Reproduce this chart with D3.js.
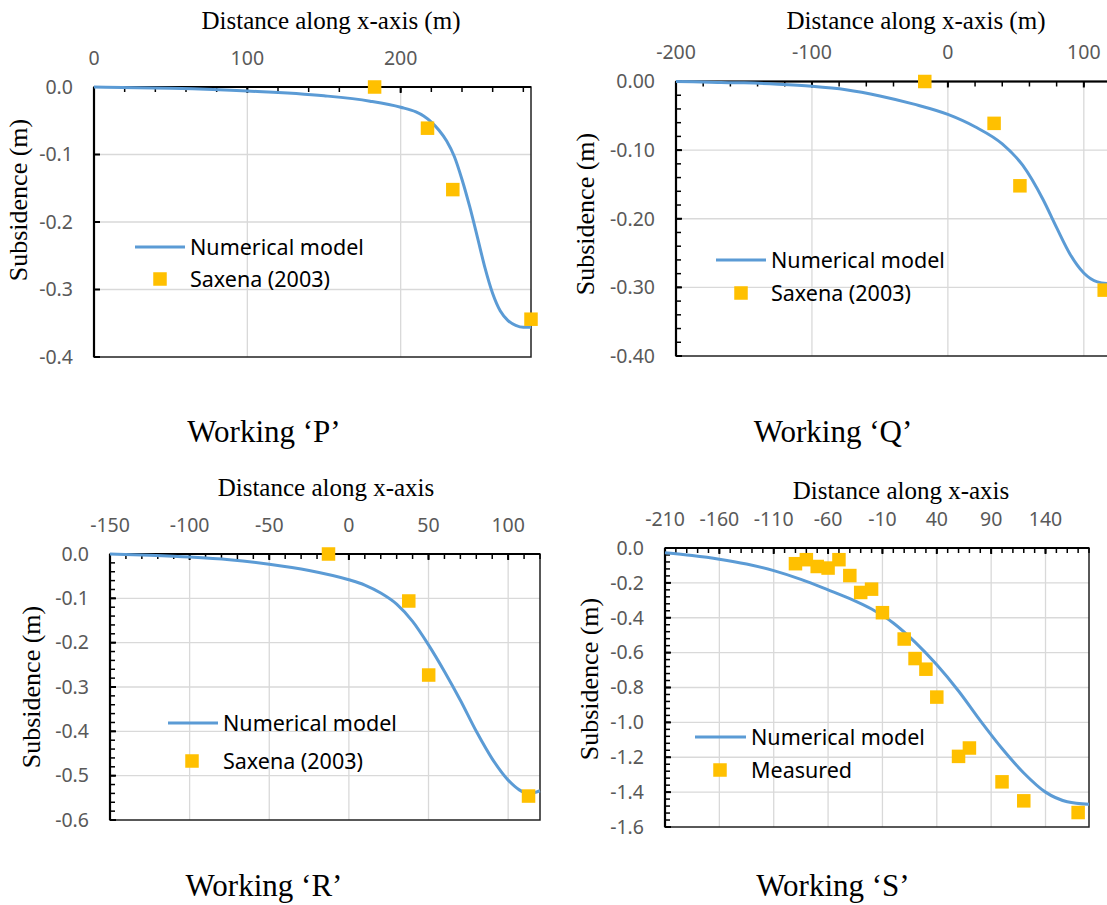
<!DOCTYPE html>
<html>
<head>
<meta charset="utf-8">
<script src="https://cdn.jsdelivr.net/npm/d3@7"></script>
<style>
  body { margin: 0; background: #fff; }
  .tick-label { font-family: "Noto Sans", sans-serif; font-size: 19.5px; fill: #595959; }
  .legend-label { font-family: "Noto Sans", sans-serif; font-size: 21.5px; fill: #000; }
  .title { font-family: "Liberation Serif", "Times New Roman", serif; font-size: 25px; fill: #000; }
  .ytitle { font-family: "Liberation Serif", "Times New Roman", serif; font-size: 26px; fill: #000; }
  .caption { font-family: "Liberation Serif", "Times New Roman", serif; font-size: 31px; fill: #000; }
</style>
</head>
<body>
<div id="chart"></div>
<script>
// Working P
var pModelX = [0, 50, 100, 150, 180, 200, 210, 215, 220, 225, 230, 235, 240, 245, 250, 255, 260, 265, 270, 275, 280, 285];
var pModelY = [0, -0.002, -0.006, -0.013, -0.021, -0.03, -0.037, -0.043, -0.052, -0.064, -0.08, -0.103, -0.137, -0.177, -0.222, -0.268, -0.306, -0.332, -0.346, -0.353, -0.356, -0.356];
var pObsX = [183, 217.5, 234, 285];
var pObsY = [0, -0.061, -0.152, -0.344];
var pXTicks = [0, 100, 200];
var pYTicks = [0, -0.1, -0.2, -0.3, -0.4];

// Working Q
var qModelX = [-200, -175, -150, -125, -100, -75, -50, -25, 0, 20, 40, 55, 70, 80, 90, 100, 110, 120];
var qModelY = [0, -0.001, -0.002, -0.004, -0.007, -0.012, -0.021, -0.033, -0.048, -0.066, -0.091, -0.122, -0.172, -0.213, -0.252, -0.279, -0.292, -0.295];
var qObsX = [-17, 34, 53, 115];
var qObsY = [0, -0.061, -0.152, -0.304];
var qXTicks = [-200, -100, 0, 100];
var qYTicks = [0, -0.1, -0.2, -0.3, -0.4];

// Working R
var rModelX = [-150, -125, -100, -75, -50, -25, 0, 10, 20, 30, 40, 50, 60, 70, 80, 90, 100, 107, 113, 120];
var rModelY = [0, -0.003, -0.007, -0.013, -0.023, -0.037, -0.058, -0.07, -0.088, -0.113, -0.152, -0.205, -0.265, -0.33, -0.4, -0.462, -0.51, -0.532, -0.54, -0.534];
var rObsX = [-12.8, 37.6, 50.1, 112.8];
var rObsY = [0, -0.106, -0.273, -0.546];
var rXTicks = [-150, -100, -50, 0, 50, 100];
var rYTicks = [0, -0.1, -0.2, -0.3, -0.4, -0.5, -0.6];

// Working S
var sModelX = [-210, -185, -160, -135, -110, -85, -60, -40, -20, 0, 20, 40, 60, 80, 100, 120, 140, 160, 180];
var sModelY = [-0.027, -0.043, -0.064, -0.092, -0.13, -0.18, -0.24, -0.29, -0.35, -0.43, -0.54, -0.67, -0.82, -0.99, -1.15, -1.29, -1.4, -1.455, -1.47];
var sObsX = [-90, -80, -70, -60, -50, -40, -30, -20, -10, 10, 20, 30, 40, 60, 70, 100, 120, 170];
var sObsY = [-0.09, -0.067, -0.106, -0.115, -0.067, -0.158, -0.255, -0.236, -0.371, -0.522, -0.634, -0.695, -0.855, -1.195, -1.147, -1.341, -1.45, -1.517];
var sXTicks = [-210, -160, -110, -60, -10, 40, 90, 140];
var sYTicks = [0, -0.2, -0.4, -0.6, -0.8, -1.0, -1.2, -1.4, -1.6];

var W = 1107, H = 905;
var lineColor = '#5b9bd5', markColor = '#ffc000';

var panels = [
  { mx: pModelX, my: pModelY, ox: pObsX, oy: pObsY, xt: pXTicks, yt: pYTicks,
    box: [94, 87, 531, 357], xd: [0, 285], yd: [-0.4, 0], xMinor: 20, yMinor: 0, dec: 1,
    xTitle: 'Distance along x-axis (m)', xTitlePos: [331, 21], yTitlePos: [19, 200],
    leg: { x1: 135, x2: 185, y1: 247, tx: 190, y2: 279, sq: 160 }, obsName: 'Saxena (2003)',
    caption: 'Working \u2018P\u2019', capPos: [264, 432] },
  { mx: qModelX, my: qModelY, ox: qObsX, oy: qObsY, xt: qXTicks, yt: qYTicks,
    box: [676, 81.5, 1111, 356], xd: [-200, 120], yd: [-0.4, 0], xMinor: 20, yMinor: 0.02, dec: 2,
    xTitle: 'Distance along x-axis (m)', xTitlePos: [916, 21], yTitlePos: [586, 214],
    leg: { x1: 716, x2: 766, y1: 260, tx: 771, y2: 293, sq: 741 }, obsName: 'Saxena (2003)',
    caption: 'Working \u2018Q\u2019', capPos: [833, 432] },
  { mx: rModelX, my: rModelY, ox: rObsX, oy: rObsY, xt: rXTicks, yt: rYTicks,
    box: [110, 554, 540, 820], xd: [-150, 120], yd: [-0.6, 0], xMinor: 10, yMinor: 0.02, dec: 1,
    xTitle: 'Distance along x-axis', xTitlePos: [326, 488], yTitlePos: [32, 687],
    leg: { x1: 168, x2: 218, y1: 723, tx: 223, y2: 761, sq: 192 }, obsName: 'Saxena (2003)',
    caption: 'Working \u2018R\u2019', capPos: [264, 886] },
  { mx: sModelX, my: sModelY, ox: sObsX, oy: sObsY, xt: sXTicks, yt: sYTicks,
    box: [665, 548, 1089, 827], xd: [-210, 180], yd: [-1.6, 0], xMinor: 10, yMinor: 0.04, dec: 1,
    xTitle: 'Distance along x-axis', xTitlePos: [901, 491], yTitlePos: [590, 679],
    leg: { x1: 695, x2: 746, y1: 737, tx: 751, y2: 770, sq: 720 }, obsName: 'Measured',
    caption: 'Working \u2018S\u2019', capPos: [833, 886] }
];

var svg = d3.select('#chart').append('svg')
  .attr('width', W).attr('height', H)
  .style('display', 'block');
svg.append('rect').attr('width', W).attr('height', H).attr('fill', '#fff');

panels.forEach(function (p) {
  var l = p.box[0], t = p.box[1], r = p.box[2], b = p.box[3];
  var x = d3.scaleLinear().domain(p.xd).range([l, r]);
  var y = d3.scaleLinear().domain(p.yd).range([b, t]);
  var g = svg.append('g');

  // gridlines
  g.selectAll('.vgrid').data(p.xt.filter(function (d) { return d !== p.xd[0]; }))
    .enter().append('line')
    .attr('x1', x).attr('x2', x).attr('y1', t).attr('y2', b)
    .attr('stroke', '#d9d9d9').attr('stroke-width', 1.3);
  g.selectAll('.hgrid').data(p.yt.filter(function (d) { return d !== 0 && d !== p.yd[0]; }))
    .enter().append('line')
    .attr('x1', l).attr('x2', r).attr('y1', y).attr('y2', y)
    .attr('stroke', '#d9d9d9').attr('stroke-width', 1.3);

  // frame
  g.append('rect').attr('x', l).attr('y', t).attr('width', r - l).attr('height', b - t)
    .attr('fill', 'none').attr('stroke', '#222').attr('stroke-width', 1.5);
  g.append('line').attr('x1', l).attr('x2', r).attr('y1', t).attr('y2', t)
    .attr('stroke', '#000').attr('stroke-width', 2.2);
  g.append('line').attr('x1', l).attr('x2', l).attr('y1', t).attr('y2', b)
    .attr('stroke', '#000').attr('stroke-width', 2.2);

  // x ticks on top axis (pointing into the plot)
  var xMinorTicks = d3.range(p.xd[0], p.xd[1] + 0.001, p.xMinor);
  g.selectAll('.xmin').data(xMinorTicks).enter().append('line')
    .attr('x1', x).attr('x2', x).attr('y1', t).attr('y2', t + 5)
    .attr('stroke', '#000').attr('stroke-width', 1.5);
  g.selectAll('.xmaj').data(p.xt).enter().append('line')
    .attr('x1', x).attr('x2', x).attr('y1', t).attr('y2', t + 6)
    .attr('stroke', '#000').attr('stroke-width', 2);

  // y ticks on left axis
  if (p.yMinor) {
    var n = Math.round((p.yd[1] - p.yd[0]) / p.yMinor);
    var yMinorTicks = d3.range(0, n + 1).map(function (i) { return p.yd[0] + i * p.yMinor; });
    g.selectAll('.ymin').data(yMinorTicks).enter().append('line')
      .attr('x1', l).attr('x2', l + 5).attr('y1', y).attr('y2', y)
      .attr('stroke', '#000').attr('stroke-width', 1.5);
  }
  g.selectAll('.ymaj').data(p.yt).enter().append('line')
    .attr('x1', l).attr('x2', l + 6).attr('y1', y).attr('y2', y)
    .attr('stroke', '#000').attr('stroke-width', 2);

  // tick labels
  g.selectAll('.xlab').data(p.xt).enter().append('text')
    .attr('class', 'tick-label')
    .attr('x', x).attr('y', t - 29).attr('dy', '0.35em')
    .attr('text-anchor', 'middle')
    .text(function (d) { return String(d); });
  g.selectAll('.ylab').data(p.yt).enter().append('text')
    .attr('class', 'tick-label')
    .attr('x', l - 21).attr('y', y).attr('dy', '0.35em')
    .attr('text-anchor', 'end')
    .text(function (d) { return (d === 0 ? 0 : d).toFixed(p.dec); });

  // titles
  g.append('text').attr('class', 'title')
    .attr('x', p.xTitlePos[0]).attr('y', p.xTitlePos[1]).attr('dy', '0.3em')
    .attr('text-anchor', 'middle').text(p.xTitle);
  g.append('text').attr('class', 'ytitle')
    .attr('transform', 'translate(' + p.yTitlePos[0] + ',' + p.yTitlePos[1] + ') rotate(-90)')
    .attr('dy', '0.3em').attr('text-anchor', 'middle').text('Subsidence (m)');
  g.append('text').attr('class', 'caption')
    .attr('x', p.capPos[0]).attr('y', p.capPos[1]).attr('dy', '0.33em')
    .attr('text-anchor', 'middle').text(p.caption);

  // model curve
  var pts = p.mx.map(function (d, i) { return [d, p.my[i]]; });
  var line = d3.line()
    .x(function (d) { return x(d[0]); })
    .y(function (d) { return y(d[1]); })
    .curve(d3.curveMonotoneX);
  g.append('path').datum(pts).attr('d', line)
    .attr('fill', 'none').attr('stroke', lineColor).attr('stroke-width', 3);

  // observed points
  var obs = p.ox.map(function (d, i) { return [d, p.oy[i]]; });
  var s = 13.5;
  g.selectAll('.obs').data(obs).enter().append('rect')
    .attr('x', function (d) { return x(d[0]) - s / 2; })
    .attr('y', function (d) { return y(d[1]) - s / 2; })
    .attr('width', s).attr('height', s)
    .attr('fill', markColor);

  // legend
  g.append('line').attr('x1', p.leg.x1).attr('x2', p.leg.x2)
    .attr('y1', p.leg.y1).attr('y2', p.leg.y1)
    .attr('stroke', lineColor).attr('stroke-width', 3);
  g.append('text').attr('class', 'legend-label')
    .attr('x', p.leg.tx).attr('y', p.leg.y1).attr('dy', '0.35em').text('Numerical model');
  g.append('rect').attr('x', p.leg.sq - s / 2).attr('y', p.leg.y2 - s / 2)
    .attr('width', s).attr('height', s).attr('fill', markColor);
  g.append('text').attr('class', 'legend-label')
    .attr('x', p.leg.tx).attr('y', p.leg.y2).attr('dy', '0.35em').text(p.obsName);
});
</script>
</body>
</html>
